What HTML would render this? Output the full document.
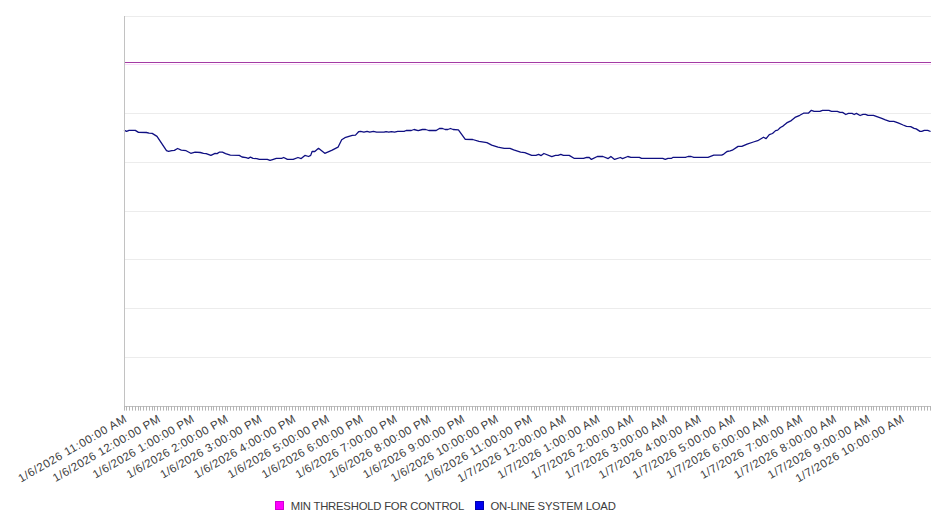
<!DOCTYPE html>
<html><head><meta charset="utf-8"><style>
html,body{margin:0;padding:0;background:#fff;}
svg{display:block;font-family:"Liberation Sans",sans-serif;}
</style></head><body>
<svg width="946" height="526" viewBox="0 0 946 526">
<rect width="946" height="526" fill="#fff"/>
<g stroke="#ececec" stroke-width="1" shape-rendering="crispEdges"><line x1="124" x2="931" y1="16.00" y2="16.00"/><line x1="124" x2="931" y1="64.75" y2="64.75" stroke="#fadcfa"/><line x1="124" x2="931" y1="113.50" y2="113.50"/><line x1="124" x2="931" y1="162.25" y2="162.25"/><line x1="124" x2="931" y1="211.00" y2="211.00"/><line x1="124" x2="931" y1="259.75" y2="259.75"/><line x1="124" x2="931" y1="308.50" y2="308.50"/><line x1="124" x2="931" y1="357.25" y2="357.25"/></g>
<line x1="124" x2="931" y1="62.5" y2="62.5" stroke="#a43aa4" stroke-width="1.2"/>
<path d="M124.0 130.2 L126.6 131.4 L129.0 130.4 L135.3 130.4 L138.5 132.4 L146.4 132.5 L149.1 133.2 L152.2 133.4 L157.0 136.4 L166.5 150.7 L168.6 151.4 L171.8 150.7 L174.4 150.4 L177.6 148.5 L181.3 150.1 L186.1 150.7 L190.8 153.3 L195.1 152.2 L200.3 152.5 L203.5 153.3 L206.2 153.6 L210.9 155.4 L215.1 153.3 L217.1 153.6 L219.2 152.2 L222.4 152.2 L225.6 153.6 L230.3 155.2 L239.3 155.4 L242.0 157.0 L246.2 157.7 L248.3 158.3 L250.4 157.2 L253.1 158.3 L256.8 158.6 L259.4 159.4 L267.3 159.4 L270.0 160.4 L272.6 159.6 L276.3 158.4 L281.6 158.3 L283.7 157.5 L287.4 159.4 L293.2 159.4 L298.0 157.5 L301.2 158.6 L304.9 155.4 L308.6 156.5 L310.7 155.4 L312.1 151.5 L314.8 151.5 L318.5 148.3 L324.8 153.3 L332.2 150.2 L338.0 147.2 L341.7 139.8 L344.9 137.7 L352.3 135.3 L355.5 135.1 L358.6 131.7 L360.7 131.4 L363.9 132.1 L367.1 131.4 L369.7 132.2 L373.4 131.4 L376.6 132.2 L384.0 132.2 L386.1 131.6 L388.8 132.2 L391.4 131.6 L394.6 132.2 L397.7 131.4 L404.1 131.4 L406.2 130.5 L411.3 130.5 L414.0 129.5 L418.2 130.6 L422.4 129.5 L425.6 129.5 L428.8 130.5 L436.2 130.5 L439.4 128.5 L442.5 128.5 L445.2 129.5 L447.8 129.5 L450.5 128.5 L453.1 129.5 L458.4 129.8 L465.3 139.3 L472.7 139.5 L479.0 141.4 L486.9 142.7 L491.7 145.1 L498.0 147.2 L504.2 148.3 L510.0 148.3 L513.7 149.9 L520.6 152.2 L524.8 152.6 L531.7 155.4 L535.9 155.4 L538.6 154.4 L541.2 155.6 L543.9 153.5 L551.8 156.7 L555.5 155.4 L558.1 155.4 L560.8 154.4 L563.4 155.4 L569.2 155.4 L574.0 158.3 L583.5 158.4 L586.7 157.3 L589.3 157.5 L591.4 159.4 L597.3 156.5 L602.9 156.5 L608.2 158.6 L610.9 156.5 L614.6 159.4 L620.4 157.5 L622.5 158.6 L627.8 156.5 L630.9 157.3 L639.4 157.3 L641.5 158.4 L662.7 158.4 L665.3 159.4 L667.9 158.4 L671.6 158.3 L673.2 157.3 L685.4 157.3 L688.0 156.5 L691.2 156.5 L693.8 157.3 L708.0 157.3 L713.8 155.2 L721.7 155.2 L723.8 154.1 L727.0 151.5 L730.2 150.9 L732.3 150.2 L738.1 146.4 L741.8 146.4 L747.1 144.1 L753.4 142.0 L757.7 140.7 L763.5 137.2 L766.1 138.6 L769.3 134.6 L772.5 133.5 L775.6 130.6 L777.7 130.1 L780.4 127.5 L783.0 126.1 L786.7 122.9 L791.3 120.6 L795.0 117.4 L799.8 115.3 L803.5 113.2 L808.3 113.2 L811.4 110.3 L814.1 111.3 L819.9 111.3 L822.5 110.3 L828.9 110.3 L831.5 111.3 L837.3 111.3 L840.0 112.4 L842.6 112.4 L845.8 114.5 L848.4 113.4 L852.1 113.4 L854.2 114.5 L856.4 113.4 L860.1 115.5 L863.0 114.3 L865.5 114.3 L868.0 115.4 L873.5 115.4 L876.9 116.6 L881.1 118.1 L885.4 119.8 L889.6 121.3 L893.8 121.3 L898.1 122.8 L903.1 125.0 L906.5 126.4 L910.7 126.6 L914.1 128.4 L916.2 128.9 L920.0 131.4 L921.7 131.4 L924.3 130.4 L927.7 130.4 L930.6 131.5" fill="none" stroke="#0f0f82" stroke-width="1.3" stroke-linejoin="round"/>
<g stroke="#c2c2c2" stroke-width="1" fill="none"><line x1="124.5" y1="16" x2="124.5" y2="406"/><line x1="124" y1="406.5" x2="931" y2="406.5"/><path stroke="#b4b4b4" d="M124.5 406v4.6M126.5 406v4.6M129.5 406v4.6M132.5 406v4.6M135.5 406v4.6M138.5 406v4.6M140.5 406v4.6M143.5 406v4.6M146.5 406v4.6M149.5 406v4.6M152.5 406v4.6M154.5 406v4.6M157.5 406v4.6M160.5 406v4.6M163.5 406v4.6M166.5 406v4.6M168.5 406v4.6M171.5 406v4.6M174.5 406v4.6M177.5 406v4.6M180.5 406v4.6M182.5 406v4.6M185.5 406v4.6M188.5 406v4.6M191.5 406v4.6M194.5 406v4.6M197.5 406v4.6M199.5 406v4.6M202.5 406v4.6M205.5 406v4.6M208.5 406v4.6M211.5 406v4.6M213.5 406v4.6M216.5 406v4.6M219.5 406v4.6M222.5 406v4.6M225.5 406v4.6M227.5 406v4.6M230.5 406v4.6M233.5 406v4.6M236.5 406v4.6M239.5 406v4.6M241.5 406v4.6M244.5 406v4.6M247.5 406v4.6M250.5 406v4.6M253.5 406v4.6M255.5 406v4.6M258.5 406v4.6M261.5 406v4.6M264.5 406v4.6M267.5 406v4.6M270.5 406v4.6M272.5 406v4.6M275.5 406v4.6M278.5 406v4.6M281.5 406v4.6M284.5 406v4.6M286.5 406v4.6M289.5 406v4.6M292.5 406v4.6M295.5 406v4.6M298.5 406v4.6M300.5 406v4.6M303.5 406v4.6M306.5 406v4.6M309.5 406v4.6M312.5 406v4.6M314.5 406v4.6M317.5 406v4.6M320.5 406v4.6M323.5 406v4.6M326.5 406v4.6M329.5 406v4.6M331.5 406v4.6M334.5 406v4.6M337.5 406v4.6M340.5 406v4.6M343.5 406v4.6M345.5 406v4.6M348.5 406v4.6M351.5 406v4.6M354.5 406v4.6M357.5 406v4.6M359.5 406v4.6M362.5 406v4.6M365.5 406v4.6M368.5 406v4.6M371.5 406v4.6M373.5 406v4.6M376.5 406v4.6M379.5 406v4.6M382.5 406v4.6M385.5 406v4.6M387.5 406v4.6M390.5 406v4.6M393.5 406v4.6M396.5 406v4.6M399.5 406v4.6M402.5 406v4.6M404.5 406v4.6M407.5 406v4.6M410.5 406v4.6M413.5 406v4.6M416.5 406v4.6M418.5 406v4.6M421.5 406v4.6M424.5 406v4.6M427.5 406v4.6M430.5 406v4.6M432.5 406v4.6M435.5 406v4.6M438.5 406v4.6M441.5 406v4.6M444.5 406v4.6M446.5 406v4.6M449.5 406v4.6M452.5 406v4.6M455.5 406v4.6M458.5 406v4.6M461.5 406v4.6M463.5 406v4.6M466.5 406v4.6M469.5 406v4.6M472.5 406v4.6M475.5 406v4.6M477.5 406v4.6M480.5 406v4.6M483.5 406v4.6M486.5 406v4.6M489.5 406v4.6M491.5 406v4.6M494.5 406v4.6M497.5 406v4.6M500.5 406v4.6M503.5 406v4.6M505.5 406v4.6M508.5 406v4.6M511.5 406v4.6M514.5 406v4.6M517.5 406v4.6M519.5 406v4.6M522.5 406v4.6M525.5 406v4.6M528.5 406v4.6M531.5 406v4.6M534.5 406v4.6M536.5 406v4.6M539.5 406v4.6M542.5 406v4.6M545.5 406v4.6M548.5 406v4.6M550.5 406v4.6M553.5 406v4.6M556.5 406v4.6M559.5 406v4.6M562.5 406v4.6M564.5 406v4.6M567.5 406v4.6M570.5 406v4.6M573.5 406v4.6M576.5 406v4.6M578.5 406v4.6M581.5 406v4.6M584.5 406v4.6M587.5 406v4.6M590.5 406v4.6M592.5 406v4.6M595.5 406v4.6M598.5 406v4.6M601.5 406v4.6M604.5 406v4.6M607.5 406v4.6M609.5 406v4.6M612.5 406v4.6M615.5 406v4.6M618.5 406v4.6M621.5 406v4.6M623.5 406v4.6M626.5 406v4.6M629.5 406v4.6M632.5 406v4.6M635.5 406v4.6M637.5 406v4.6M640.5 406v4.6M643.5 406v4.6M646.5 406v4.6M649.5 406v4.6M651.5 406v4.6M654.5 406v4.6M657.5 406v4.6M660.5 406v4.6M663.5 406v4.6M666.5 406v4.6M668.5 406v4.6M671.5 406v4.6M674.5 406v4.6M677.5 406v4.6M680.5 406v4.6M682.5 406v4.6M685.5 406v4.6M688.5 406v4.6M691.5 406v4.6M694.5 406v4.6M696.5 406v4.6M699.5 406v4.6M702.5 406v4.6M705.5 406v4.6M708.5 406v4.6M710.5 406v4.6M713.5 406v4.6M716.5 406v4.6M719.5 406v4.6M722.5 406v4.6M724.5 406v4.6M727.5 406v4.6M730.5 406v4.6M733.5 406v4.6M736.5 406v4.6M739.5 406v4.6M741.5 406v4.6M744.5 406v4.6M747.5 406v4.6M750.5 406v4.6M753.5 406v4.6M755.5 406v4.6M758.5 406v4.6M761.5 406v4.6M764.5 406v4.6M767.5 406v4.6M769.5 406v4.6M772.5 406v4.6M775.5 406v4.6M778.5 406v4.6M781.5 406v4.6M783.5 406v4.6M786.5 406v4.6M789.5 406v4.6M792.5 406v4.6M795.5 406v4.6M798.5 406v4.6M800.5 406v4.6M803.5 406v4.6M806.5 406v4.6M809.5 406v4.6M812.5 406v4.6M814.5 406v4.6M817.5 406v4.6M820.5 406v4.6M823.5 406v4.6M826.5 406v4.6M828.5 406v4.6M831.5 406v4.6M834.5 406v4.6M837.5 406v4.6M840.5 406v4.6M842.5 406v4.6M845.5 406v4.6M848.5 406v4.6M851.5 406v4.6M854.5 406v4.6M856.5 406v4.6M859.5 406v4.6M862.5 406v4.6M865.5 406v4.6M868.5 406v4.6M871.5 406v4.6M873.5 406v4.6M876.5 406v4.6M879.5 406v4.6M882.5 406v4.6M885.5 406v4.6M887.5 406v4.6M890.5 406v4.6M893.5 406v4.6M896.5 406v4.6M899.5 406v4.6M901.5 406v4.6M904.5 406v4.6M907.5 406v4.6M910.5 406v4.6M913.5 406v4.6M915.5 406v4.6M918.5 406v4.6M921.5 406v4.6M924.5 406v4.6M927.5 406v4.6M930.5 406v4.6"/></g>
<g font-size="11.5" fill="#3c3c3c"><text transform="translate(127.30 421.3) rotate(-30)" text-anchor="end" textLength="122.8" lengthAdjust="spacing">1/6/2026 11:00:00 AM</text><text transform="translate(161.10 421.3) rotate(-30)" text-anchor="end" textLength="121.9" lengthAdjust="spacing">1/6/2026 12:00:00 PM</text><text transform="translate(194.90 421.3) rotate(-30)" text-anchor="end" textLength="114.9" lengthAdjust="spacing">1/6/2026 1:00:00 PM</text><text transform="translate(228.70 421.3) rotate(-30)" text-anchor="end" textLength="114.9" lengthAdjust="spacing">1/6/2026 2:00:00 PM</text><text transform="translate(262.50 421.3) rotate(-30)" text-anchor="end" textLength="114.9" lengthAdjust="spacing">1/6/2026 3:00:00 PM</text><text transform="translate(296.30 421.3) rotate(-30)" text-anchor="end" textLength="114.9" lengthAdjust="spacing">1/6/2026 4:00:00 PM</text><text transform="translate(330.10 421.3) rotate(-30)" text-anchor="end" textLength="114.9" lengthAdjust="spacing">1/6/2026 5:00:00 PM</text><text transform="translate(363.90 421.3) rotate(-30)" text-anchor="end" textLength="114.9" lengthAdjust="spacing">1/6/2026 6:00:00 PM</text><text transform="translate(397.70 421.3) rotate(-30)" text-anchor="end" textLength="114.9" lengthAdjust="spacing">1/6/2026 7:00:00 PM</text><text transform="translate(431.50 421.3) rotate(-30)" text-anchor="end" textLength="114.9" lengthAdjust="spacing">1/6/2026 8:00:00 PM</text><text transform="translate(465.30 421.3) rotate(-30)" text-anchor="end" textLength="114.9" lengthAdjust="spacing">1/6/2026 9:00:00 PM</text><text transform="translate(499.10 421.3) rotate(-30)" text-anchor="end" textLength="121.9" lengthAdjust="spacing">1/6/2026 10:00:00 PM</text><text transform="translate(532.90 421.3) rotate(-30)" text-anchor="end" textLength="121.9" lengthAdjust="spacing">1/6/2026 11:00:00 PM</text><text transform="translate(566.70 421.3) rotate(-30)" text-anchor="end" textLength="122.8" lengthAdjust="spacing">1/7/2026 12:00:00 AM</text><text transform="translate(600.50 421.3) rotate(-30)" text-anchor="end" textLength="115.8" lengthAdjust="spacing">1/7/2026 1:00:00 AM</text><text transform="translate(634.30 421.3) rotate(-30)" text-anchor="end" textLength="115.8" lengthAdjust="spacing">1/7/2026 2:00:00 AM</text><text transform="translate(668.10 421.3) rotate(-30)" text-anchor="end" textLength="115.8" lengthAdjust="spacing">1/7/2026 3:00:00 AM</text><text transform="translate(701.90 421.3) rotate(-30)" text-anchor="end" textLength="115.8" lengthAdjust="spacing">1/7/2026 4:00:00 AM</text><text transform="translate(735.70 421.3) rotate(-30)" text-anchor="end" textLength="115.8" lengthAdjust="spacing">1/7/2026 5:00:00 AM</text><text transform="translate(769.50 421.3) rotate(-30)" text-anchor="end" textLength="115.8" lengthAdjust="spacing">1/7/2026 6:00:00 AM</text><text transform="translate(803.30 421.3) rotate(-30)" text-anchor="end" textLength="115.8" lengthAdjust="spacing">1/7/2026 7:00:00 AM</text><text transform="translate(837.10 421.3) rotate(-30)" text-anchor="end" textLength="115.8" lengthAdjust="spacing">1/7/2026 8:00:00 AM</text><text transform="translate(870.90 421.3) rotate(-30)" text-anchor="end" textLength="115.8" lengthAdjust="spacing">1/7/2026 9:00:00 AM</text><text transform="translate(904.70 421.3) rotate(-30)" text-anchor="end" textLength="122.8" lengthAdjust="spacing">1/7/2026 10:00:00 AM</text></g>
<g font-size="11.3" fill="#3c3c3c">
<rect x="275.5" y="501.5" width="8" height="8" fill="#ff00ff" stroke="#d000d0"/>
<text x="290.7" y="510" textLength="173.5" lengthAdjust="spacing">MIN THRESHOLD FOR CONTROL</text>
<rect x="475.5" y="501.5" width="8" height="8" fill="#0000f0" stroke="#0000b0"/>
<text x="490.4" y="510" textLength="125.4" lengthAdjust="spacing">ON-LINE SYSTEM LOAD</text>
</g>
</svg>
</body></html>
